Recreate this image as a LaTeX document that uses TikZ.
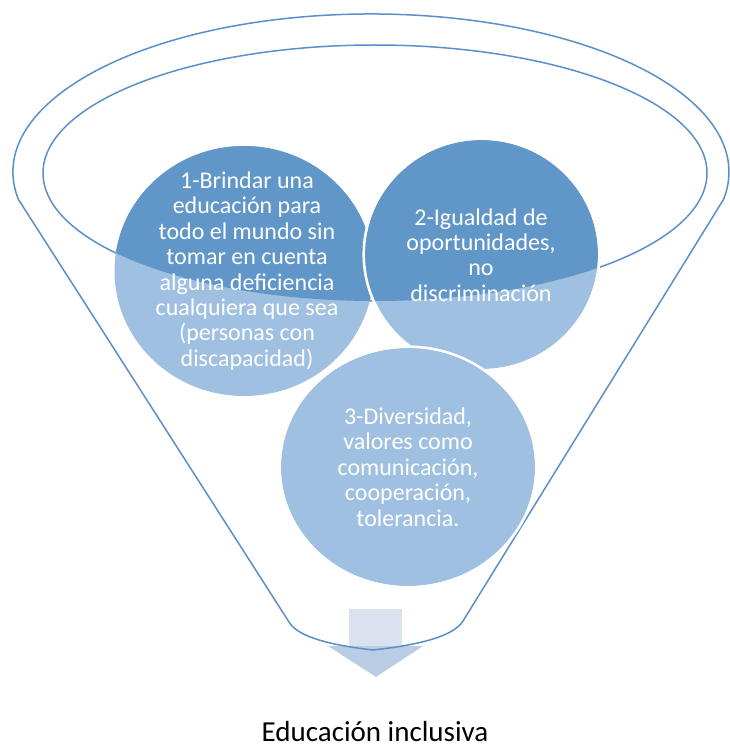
\documentclass[tikz,border=0pt]{standalone}
\usepackage{fontspec}
\usetikzlibrary{shapes.geometric}
\setmainfont{Carlito}
\definecolor{fline}{HTML}{5B8FC8}
\definecolor{cdark}{HTML}{6096C8}
\definecolor{clight}{HTML}{9FC0E0}
\definecolor{arrlight}{HTML}{DAE2F0}
\definecolor{arrdark}{HTML}{BBCDE5}
\begin{document}
\begin{tikzpicture}[x=1pt,y=1pt,
  funnel/.style={draw=fline,line width=1.5pt,line join=round},
  bubble/.style={ellipse,inner sep=0pt,fill=clight},
  bubbleedge/.style={draw=white,line width=2.5pt},
  btext/.style={text=white,align=center,font=\fontsize{24}{25.4}\selectfont},
  caption/.style={text=black,font=\fontsize{29}{30}\selectfont}]
\useasboundingbox (0,0) rectangle (729,-749);
% arrow below funnel
\fill[arrlight] (349,-609) rectangle (402,-646);
\fill[arrdark] (328,-646) -- (423,-646) -- (376,-677) -- cycle;
% funnel outline
\draw[funnel] (373,-650) .. controls (320,-644) and (296,-634) .. (289,-622)
  -- (18.4,-199.4) arc[start angle=190,end angle=-10,x radius=358,y radius=158]
  -- (463,-621) .. controls (455,-634) and (428,-644) .. (373,-650) -- cycle;
% inner ellipse
\draw[funnel] (375,-173) ellipse[x radius=332,y radius=128];
% circle 1
\node[bubble,minimum width=259pt,minimum height=250pt] (c1) at (244,-271) {};
\begin{scope}
  \clip (375,-173) ellipse[x radius=332,y radius=128];
  \fill[cdark] (c1.center) ellipse[x radius=129.5,y radius=125];
\end{scope}
% circle 2
\node[bubble,minimum width=233pt,minimum height=229pt] (c2) at (481.5,-254.5) {};
\begin{scope}
  \clip (375,-173) ellipse[x radius=332,y radius=128];
  \fill[cdark] (c2.center) ellipse[x radius=116.5,y radius=114.5];
\end{scope}
\draw[bubbleedge] (c2.center) ellipse[x radius=117.8,y radius=115.8];
% circle 3
\node[bubble,minimum width=254pt,minimum height=238pt] (c3) at (408,-467) {};
\draw[bubbleedge] (c3.center) ellipse[x radius=128.3,y radius=120.3];
% texts
\node[btext] (t1) at (247,-271) {1-Brindar una\\educación para\\todo el mundo sin\\tomar en cuenta\\alguna deficiencia\\cualquiera que sea\\(personas con\\discapacidad)};
\node[btext] (t2) at (481,-255) {2-Igualdad de\\oportunidades,\\no\\discriminación};
\node[btext] (t3) at (408,-467) {3-Diversidad,\\valores como\\comunicación,\\cooperación,\\tolerancia.};
\node[caption,anchor=base,text depth=0pt] (cap) at (375,-741) {Educación inclusiva};
\end{tikzpicture}
\end{document}
